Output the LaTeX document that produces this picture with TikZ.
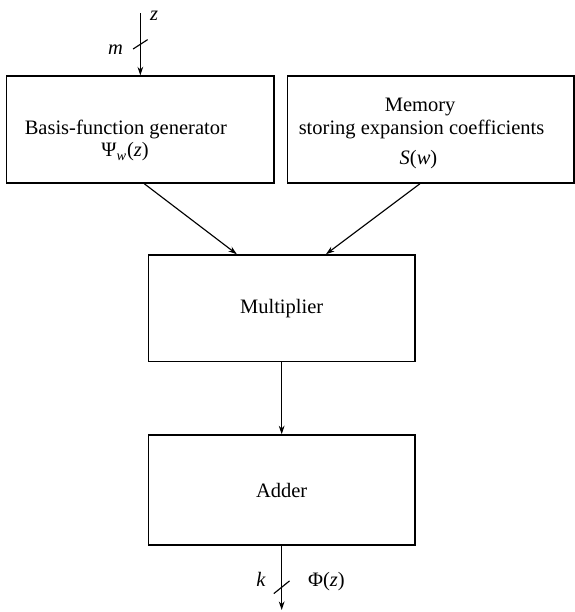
\documentclass[tikz,border=0pt]{standalone}
\usepackage{fontspec}
\setmainfont{Liberation Serif}
\usetikzlibrary{arrows.meta}

% italic variable names, set in the text font
\newcommand{\var}[1]{\textit{#1}}

\begin{document}
\begin{tikzpicture}[
    font=\fontsize{10.8}{13}\selectfont,
    block/.style={draw, line width=0.7pt, inner sep=0pt, minimum height=1.98cm},
    wire/.style={draw, line width=0.6pt},
    flow/.style={wire, -{Stealth[length=4.5pt, width=3pt]}},
    lbl/.style={anchor=base, inner sep=0pt},
    tick/.style={line width=0.6pt},
  ]
  \useasboundingbox (0,0) rectangle (10.63,11.333);

  % ---- the four blocks
  \node[block, minimum width=4.95cm] (gen) at (2.599,8.935) {};
  \node[block, minimum width=5.30cm] (mem) at (7.979,8.935) {};
  \node[block, minimum width=4.94cm] (mult) at (5.216,5.623) {Multiplier};
  \node[block, minimum width=4.94cm, minimum height=2.04cm] (add) at (5.216,2.259) {Adder};

  % ---- what the two upper blocks hold
  \node[lbl] (gen1) at (2.33,8.833) {Basis-function generator};
  \node[lbl] (gen2) at (2.315,8.426) {Ψ\textsubscript{\var{w}}(\var{z})};
  \node[lbl] (mem1) at (7.78,9.259) {Memory};
  \node[lbl] (mem2) at (7.806,8.833) {storing expansion coefficients};
  \node[lbl] (mem3) at (7.75,8.278) {\var{S}(\var{w})};

  % ---- input bus, m lines wide
  \coordinate (zin) at (2.599,11.087);
  \draw[flow] (zin) -- coordinate[pos=0.5] (zbus) (gen.north);
  \draw[tick] ([shift={(-0.135,-0.087)}]zbus) -- ([shift={(0.135,0.087)}]zbus);
  \node[lbl] (mlbl) at (2.139,10.315) {\var{m}};
  \node[lbl] (zlbl) at (2.852,10.95) {\var{z}};

  % ---- both blocks feed the multiplier, then the adder
  \draw[flow] ([xshift=0.07cm]gen.south) -- ([xshift=-0.83cm]mult.north);
  \draw[flow] ([xshift=-0.20cm]mem.south) -- ([xshift=0.82cm]mult.north);
  \draw[flow] (mult.south) -- (add.north);

  % ---- output bus, k lines wide
  \coordinate (out) at (5.216,0.037);
  \draw[flow] (add.south) -- coordinate[pos=0.646] (kbus) (out);
  \draw[tick] ([shift={(-0.145,-0.117)}]kbus) -- ([shift={(0.145,0.117)}]kbus);
  \node[lbl] (klbl) at (4.833,0.463) {\var{k}};
  \node[lbl, anchor=base west] (phi) at (5.698,0.463) {Φ(\var{z})};

\end{tikzpicture}
\end{document}
